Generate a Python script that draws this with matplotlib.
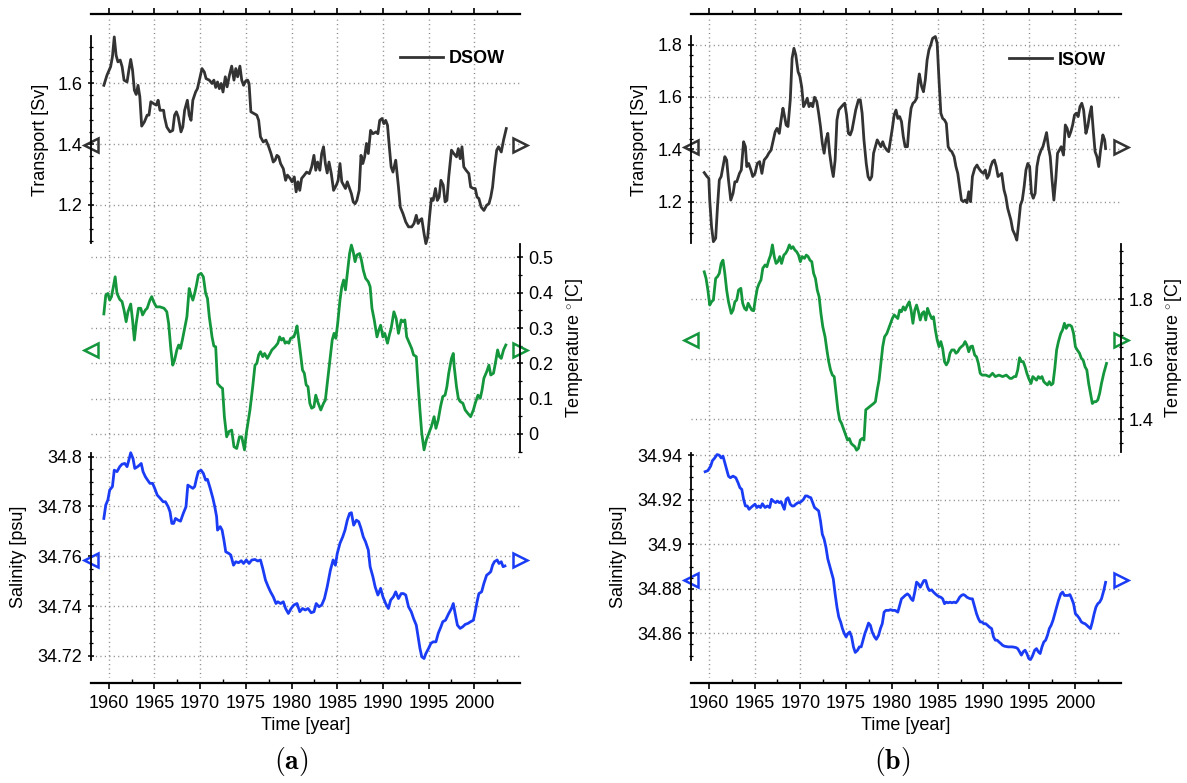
import numpy as np
import matplotlib
matplotlib.use("Agg")
import matplotlib.pyplot as plt
from matplotlib.ticker import FixedLocator, AutoMinorLocator, MultipleLocator, FuncFormatter
from matplotlib.transforms import blended_transform_factory

# ---------------- data (year, value) ----------------
dsow_transport = [
(1959.46,1.593),(1959.8,1.626),(1960.2,1.654),(1960.4,1.687),(1960.6,1.752),(1960.8,1.692),(1961.0,1.67),
(1961.25,1.676),(1961.46,1.654),(1961.67,1.61),(1962.0,1.604),(1962.2,1.643),(1962.4,1.678),(1962.6,1.643),
(1962.8,1.577),(1963.0,1.563),(1963.2,1.593),(1963.4,1.555),(1963.6,1.459),(1963.9,1.473),(1964.2,1.495),
(1964.4,1.495),(1964.6,1.539),(1964.9,1.533),(1965.2,1.528),(1965.4,1.544),(1965.6,1.511),(1966.0,1.511),
(1966.1,1.489),(1966.35,1.456),(1966.7,1.44),(1967.0,1.445),(1967.2,1.495),(1967.4,1.506),(1967.6,1.489),
(1967.9,1.44),(1968.1,1.456),(1968.3,1.511),(1968.6,1.544),(1968.8,1.495),(1969.0,1.478),(1969.2,1.544),
(1969.5,1.571),(1969.7,1.582),(1970.0,1.621),(1970.2,1.648),(1970.45,1.637),(1970.65,1.615),(1971.0,1.61),
(1971.3,1.599),(1971.5,1.61),(1971.7,1.586),(1971.9,1.604),(1972.1,1.582),(1972.3,1.599),(1972.5,1.571),
(1972.75,1.621),(1972.95,1.588),(1973.2,1.626),(1973.45,1.656),(1973.7,1.61),(1973.9,1.648),(1974.1,1.621),
(1974.35,1.656),(1974.55,1.61),(1974.75,1.593),(1975.0,1.608),(1975.2,1.61),(1975.35,1.599),(1975.55,1.506),
(1975.9,1.5),(1976.2,1.495),(1976.4,1.478),(1976.6,1.424),(1976.9,1.407),(1977.2,1.413),(1977.5,1.391),
(1977.75,1.369),(1978.0,1.341),(1978.2,1.347),(1978.4,1.363),(1978.6,1.358),(1978.8,1.336),(1979.1,1.319),
(1979.35,1.281),(1979.55,1.298),(1979.85,1.287),(1980.05,1.276),(1980.3,1.292),(1980.5,1.243),(1980.7,1.276),
(1980.9,1.248),(1981.1,1.287),(1981.4,1.298),(1981.65,1.308),(1981.95,1.303),(1982.2,1.325),(1982.45,1.363),
(1982.65,1.314),(1982.85,1.341),(1983.1,1.314),(1983.3,1.369),(1983.5,1.391),(1983.7,1.336),(1983.9,1.305),
(1984.1,1.341),(1984.35,1.303),(1984.6,1.248),(1984.9,1.265),(1985.1,1.281),(1985.3,1.336),(1985.5,1.276),
(1985.7,1.265),(1985.9,1.254),(1986.1,1.276),(1986.35,1.254),(1986.55,1.237),(1986.75,1.21),(1986.95,1.204),
(1987.15,1.215),(1987.4,1.248),(1987.6,1.363),(1987.8,1.336),(1988.0,1.358),(1988.2,1.402),(1988.4,1.369),
(1988.65,1.445),(1988.9,1.434),(1989.25,1.44),(1989.45,1.434),(1989.65,1.478),(1989.9,1.484),(1990.1,1.467),
(1990.3,1.478),(1990.5,1.462),(1990.7,1.391),(1990.9,1.325),(1991.1,1.308),(1991.4,1.347),(1991.7,1.259),
(1991.9,1.193),(1992.2,1.171),(1992.5,1.144),(1992.8,1.128),(1993.15,1.128),(1993.4,1.139),(1993.65,1.166),
(1993.85,1.139),(1994.05,1.15),(1994.25,1.155),(1994.5,1.106),(1994.7,1.073),(1994.9,1.095),(1995.1,1.161),
(1995.3,1.221),(1995.5,1.215),(1995.75,1.254),(1995.95,1.215),(1996.15,1.226),(1996.35,1.281),(1996.6,1.265),
(1996.8,1.21),(1997.0,1.215),(1997.2,1.292),(1997.5,1.38),(1997.75,1.369),(1998.05,1.358),(1998.25,1.385),
(1998.45,1.352),(1998.65,1.391),(1998.85,1.325),(1999.1,1.314),(1999.4,1.303),(1999.6,1.259),(1999.9,1.254),
(2000.1,1.254),(2000.3,1.226),(2000.5,1.221),(2000.75,1.193),(2001.05,1.182),(2001.35,1.199),(2001.6,1.204),
(2001.8,1.226),(2002.0,1.259),(2002.2,1.319),(2002.45,1.38),(2002.65,1.391),(2002.95,1.374),(2003.2,1.413),
(2003.5,1.451)]

dsow_temperature = [
(1959.46,0.34),(1959.67,0.393),(1959.9,0.398),(1960.1,0.379),(1960.3,0.389),(1960.5,0.417),(1960.7,0.445),
(1960.9,0.398),(1961.2,0.381),(1961.45,0.375),(1961.67,0.351),(1961.9,0.318),(1962.1,0.346),(1962.4,0.368),
(1962.6,0.323),(1962.8,0.266),(1963.0,0.313),(1963.25,0.356),(1963.5,0.356),(1963.7,0.337),(1964.0,0.351),
(1964.2,0.356),(1964.5,0.379),(1964.7,0.389),(1964.9,0.375),(1965.2,0.36),(1965.6,0.36),(1966.05,0.356),
(1966.35,0.346),(1966.55,0.313),(1966.8,0.238),(1967.0,0.195),(1967.2,0.209),(1967.45,0.238),(1967.65,0.252),
(1967.85,0.242),(1968.05,0.266),(1968.3,0.299),(1968.55,0.332),(1968.8,0.412),(1969.0,0.393),(1969.2,0.379),
(1969.4,0.398),(1969.6,0.422),(1969.8,0.45),(1970.1,0.455),(1970.35,0.445),(1970.6,0.398),(1970.8,0.384),
(1971.0,0.332),(1971.3,0.275),(1971.5,0.249),(1971.7,0.247),(1971.9,0.143),(1972.2,0.134),(1972.45,0.129),
(1972.65,0.049),(1972.9,-0.008),(1973.15,0.007),(1973.45,0.011),(1973.7,-0.036),(1974.0,-0.041),(1974.3,-0.008),
(1974.55,-0.008),(1974.85,-0.045),(1975.05,0.002),(1975.25,0.035),(1975.45,0.068),(1975.75,0.134),(1976.0,0.195),
(1976.2,0.2),(1976.4,0.224),(1976.6,0.233),(1976.85,0.219),(1977.05,0.228),(1977.35,0.214),(1977.65,0.228),
(1977.85,0.238),(1978.2,0.247),(1978.5,0.257),(1978.7,0.275),(1978.9,0.266),(1979.1,0.271),(1979.3,0.257),
(1979.5,0.261),(1979.7,0.257),(1979.9,0.271),(1980.25,0.275),(1980.45,0.29),(1980.6,0.306),(1980.8,0.266),
(1981.0,0.224),(1981.2,0.181),(1981.4,0.172),(1981.6,0.139),(1981.8,0.134),(1982.0,0.087),(1982.2,0.073),
(1982.45,0.077),(1982.65,0.11),(1982.85,0.092),(1983.2,0.068),(1983.5,0.087),(1983.7,0.096),(1983.95,0.153),
(1984.25,0.219),(1984.45,0.266),(1984.65,0.285),(1984.85,0.271),(1985.05,0.313),(1985.3,0.379),(1985.5,0.417),
(1985.7,0.436),(1985.9,0.408),(1986.1,0.455),(1986.35,0.511),(1986.55,0.535),(1986.75,0.516),(1986.95,0.488),
(1987.15,0.507),(1987.45,0.511),(1987.65,0.492),(1987.85,0.464),(1988.1,0.441),(1988.4,0.431),(1988.6,0.417),
(1988.8,0.356),(1989.05,0.323),(1989.35,0.275),(1989.55,0.294),(1989.75,0.308),(1990.0,0.275),(1990.2,0.285),
(1990.5,0.257),(1990.7,0.28),(1990.9,0.299),(1991.2,0.346),(1991.45,0.327),(1991.7,0.285),(1992.0,0.323),
(1992.2,0.318),(1992.4,0.323),(1992.6,0.275),(1992.9,0.257),(1993.15,0.242),(1993.35,0.224),(1993.65,0.219),
(1993.85,0.139),(1994.05,0.068),(1994.25,0.002),(1994.5,-0.045),(1994.75,-0.017),(1995.1,0.007),(1995.3,0.021),
(1995.6,0.049),(1995.8,0.016),(1996.05,0.04),(1996.3,0.077),(1996.55,0.106),(1996.8,0.11),(1997.0,0.134),
(1997.2,0.172),(1997.5,0.214),(1997.7,0.228),(1997.8,0.191),(1998.05,0.134),(1998.25,0.101),(1998.45,0.092),
(1998.75,0.087),(1999.0,0.068),(1999.3,0.058),(1999.6,0.049),(1999.9,0.068),(2000.1,0.087),(2000.4,0.11),
(2000.65,0.101),(2000.85,0.125),(2001.05,0.158),(2001.35,0.176),(2001.6,0.195),(2001.8,0.167),(2002.1,0.172),
(2002.3,0.2),(2002.55,0.238),(2002.75,0.219),(2002.95,0.214),(2003.2,0.238),(2003.45,0.252)]

dsow_salinity = [
(1959.46,34.7752),(1959.67,34.7806),(1959.9,34.7826),(1960.1,34.7866),(1960.4,34.788),(1960.6,34.7946),
(1960.9,34.794),(1961.2,34.796),(1961.45,34.797),(1961.75,34.7973),(1962.0,34.796),(1962.2,34.7987),
(1962.4,34.8016),(1962.65,34.7993),(1962.85,34.7953),(1963.15,34.796),(1963.35,34.7966),(1963.55,34.7973),
(1963.75,34.794),(1964.0,34.792),(1964.25,34.7906),(1964.5,34.7893),(1964.8,34.7893),(1965.1,34.7866),
(1965.3,34.7846),(1965.65,34.7832),(1965.95,34.7819),(1966.2,34.7819),(1966.5,34.7799),(1966.7,34.7779),
(1966.9,34.7732),(1967.1,34.7732),(1967.3,34.7752),(1967.6,34.7745),(1967.85,34.7741),(1968.15,34.7772),
(1968.45,34.7799),(1968.65,34.7886),(1968.9,34.788),(1969.2,34.7873),(1969.4,34.788),(1969.6,34.7913),
(1969.8,34.794),(1970.1,34.7946),(1970.35,34.7933),(1970.6,34.7906),(1970.8,34.7909),(1971.1,34.7873),
(1971.4,34.7832),(1971.6,34.7799),(1971.8,34.7759),(1971.9,34.7705),(1972.2,34.7719),(1972.4,34.7705),
(1972.6,34.7665),(1972.8,34.7618),(1973.15,34.7611),(1973.35,34.7605),(1973.65,34.7564),(1973.9,34.7578),
(1974.2,34.7574),(1974.5,34.7582),(1974.75,34.7571),(1975.05,34.7585),(1975.35,34.7571),(1975.65,34.7585),
(1976.0,34.7587),(1976.3,34.7581),(1976.6,34.7585),(1976.85,34.7551),(1977.15,34.7504),(1977.45,34.7477),
(1977.7,34.7457),(1978.0,34.7437),(1978.3,34.741),(1978.5,34.7417),(1978.8,34.741),(1979.1,34.7417),
(1979.35,34.739),(1979.65,34.737),(1979.95,34.739),(1980.25,34.7404),(1980.6,34.741),(1980.9,34.7377),
(1981.2,34.739),(1981.5,34.7384),(1981.8,34.739),(1982.15,34.7373),(1982.45,34.7377),(1982.7,34.741),
(1983.0,34.7397),(1983.3,34.7404),(1983.6,34.743),(1983.9,34.7477),(1984.25,34.7544),(1984.55,34.7585),
(1984.8,34.7564),(1985.0,34.7611),(1985.3,34.7652),(1985.6,34.7678),(1985.85,34.7705),(1986.1,34.7745),
(1986.35,34.7772),(1986.55,34.7775),(1986.8,34.7725),(1987.1,34.7745),(1987.35,34.7739),(1987.6,34.7712),
(1987.85,34.7678),(1988.1,34.7658),(1988.4,34.7625),(1988.6,34.7558),(1988.9,34.7518),(1989.15,34.7477),
(1989.45,34.7444),(1989.75,34.7471),(1990.0,34.7437),(1990.3,34.741),(1990.6,34.739),(1990.85,34.7424),
(1991.15,34.7437),(1991.4,34.7457),(1991.7,34.743),(1992.0,34.745),(1992.25,34.745),(1992.5,34.7444),
(1992.8,34.7397),(1993.1,34.7377),(1993.35,34.735),(1993.65,34.7323),(1993.85,34.7276),(1994.05,34.723),
(1994.25,34.7196),(1994.5,34.7189),(1994.7,34.7209),(1995.0,34.723),(1995.25,34.725),(1995.5,34.7256),
(1995.8,34.7256),(1996.05,34.729),(1996.35,34.7317),(1996.55,34.7337),(1996.85,34.7343),(1997.2,34.737),
(1997.5,34.739),(1997.7,34.741),(1997.9,34.737),(1998.15,34.7323),(1998.45,34.731),(1998.75,34.7317),
(1999.0,34.7326),(1999.3,34.733),(1999.6,34.7337),(1999.9,34.7343),(2000.1,34.7377),(2000.3,34.7417),
(2000.5,34.745),(2000.8,34.7457),(2001.05,34.7491),(2001.35,34.7524),(2001.6,34.7531),(2001.8,34.7538),
(2002.0,34.7564),(2002.2,34.7578),(2002.5,34.7585),(2002.7,34.7571),(2002.95,34.7578),(2003.15,34.7558),
(2003.35,34.7561)]

isow_transport = [
(1959.5,1.311),(1959.8,1.296),(1960.0,1.289),(1960.1,1.206),(1960.3,1.104),(1960.5,1.047),(1960.75,1.06),
(1960.95,1.181),(1961.15,1.283),(1961.35,1.296),(1961.55,1.334),(1961.75,1.372),(1961.95,1.359),(1962.15,1.283),
(1962.4,1.206),(1962.65,1.232),(1962.85,1.276),(1963.05,1.276),(1963.35,1.308),(1963.55,1.321),(1963.8,1.429),
(1964.0,1.41),(1964.15,1.334),(1964.35,1.346),(1964.6,1.321),(1964.8,1.296),(1965.05,1.308),(1965.3,1.346),
(1965.55,1.353),(1965.8,1.308),(1966.05,1.359),(1966.35,1.372),(1966.55,1.385),(1966.8,1.397),(1967.05,1.436),
(1967.25,1.467),(1967.45,1.48),(1967.7,1.461),(1967.9,1.512),(1968.1,1.557),(1968.25,1.531),(1968.45,1.493),
(1968.65,1.487),(1968.9,1.589),(1969.1,1.748),(1969.3,1.786),(1969.5,1.761),(1969.75,1.697),(1969.95,1.678),
(1970.15,1.638),(1970.35,1.563),(1970.55,1.576),(1970.75,1.595),(1970.95,1.563),(1971.15,1.576),(1971.35,1.563),
(1971.55,1.599),(1971.8,1.582),(1972.0,1.538),(1972.2,1.487),(1972.4,1.423),(1972.6,1.385),(1972.8,1.436),
(1973.0,1.461),(1973.2,1.385),(1973.4,1.334),(1973.6,1.296),(1973.8,1.359),(1974.0,1.512),(1974.2,1.55),
(1974.45,1.561),(1974.65,1.569),(1974.85,1.576),(1975.05,1.531),(1975.25,1.461),(1975.45,1.455),(1975.65,1.474),
(1975.85,1.512),(1976.05,1.55),(1976.35,1.589),(1976.55,1.589),(1976.75,1.538),(1976.95,1.436),(1977.2,1.346),
(1977.4,1.296),(1977.6,1.283),(1977.8,1.296),(1978.0,1.385),(1978.2,1.41),(1978.4,1.436),(1978.6,1.423),
(1978.8,1.41),(1979.0,1.429),(1979.2,1.41),(1979.45,1.397),(1979.65,1.391),(1979.85,1.436),(1980.05,1.48),
(1980.25,1.531),(1980.45,1.55),(1980.65,1.518),(1980.85,1.525),(1981.05,1.506),(1981.25,1.448),(1981.45,1.41),
(1981.7,1.41),(1981.9,1.499),(1982.1,1.557),(1982.3,1.576),(1982.5,1.582),(1982.7,1.595),(1982.9,1.665),
(1983.0,1.688),(1983.25,1.64),(1983.45,1.62),(1983.65,1.665),(1983.85,1.741),(1984.05,1.78),(1984.25,1.799),
(1984.45,1.824),(1984.75,1.831),(1984.95,1.805),(1985.15,1.665),(1985.35,1.538),(1985.55,1.518),(1985.75,1.512),
(1985.95,1.499),(1986.15,1.41),(1986.35,1.397),(1986.55,1.391),(1986.8,1.372),(1987.0,1.334),(1987.2,1.308),
(1987.4,1.257),(1987.6,1.206),(1987.8,1.2),(1988.0,1.206),(1988.2,1.196),(1988.4,1.238),(1988.6,1.2),
(1988.8,1.296),(1989.05,1.327),(1989.3,1.34),(1989.5,1.327),(1989.75,1.315),(1990.0,1.308),(1990.2,1.321),
(1990.4,1.289),(1990.6,1.302),(1990.8,1.334),(1991.0,1.353),(1991.2,1.359),(1991.4,1.334),(1991.6,1.296),
(1991.8,1.302),(1992.0,1.308),(1992.25,1.245),(1992.45,1.219),(1992.65,1.175),(1992.8,1.155),(1993.0,1.13),
(1993.2,1.092),(1993.45,1.073),(1993.65,1.053),(1993.85,1.117),(1994.05,1.187),(1994.25,1.206),(1994.45,1.257),
(1994.65,1.321),(1994.85,1.346),(1995.05,1.334),(1995.25,1.232),(1995.45,1.213),(1995.65,1.232),(1995.85,1.334),
(1996.05,1.372),(1996.3,1.397),(1996.5,1.41),(1996.7,1.436),(1996.9,1.464),(1997.1,1.41),(1997.3,1.372),
(1997.5,1.283),(1997.7,1.206),(1997.9,1.283),(1998.1,1.385),(1998.3,1.397),(1998.5,1.41),(1998.75,1.378),
(1998.95,1.493),(1999.15,1.48),(1999.35,1.448),(1999.55,1.467),(1999.75,1.493),(1999.95,1.531),(2000.15,1.538),
(2000.35,1.525),(2000.55,1.563),(2000.75,1.576),(2000.95,1.55),(2001.2,1.461),(2001.4,1.487),(2001.6,1.531),
(2001.8,1.563),(2002.0,1.474),(2002.2,1.391),(2002.4,1.372),(2002.6,1.334),(2002.8,1.397),(2003.05,1.455),
(2003.25,1.436),(2003.35,1.403)]

isow_temperature = [
(1959.5,1.892),(1959.7,1.87),(1959.9,1.831),(1960.1,1.781),(1960.3,1.792),(1960.5,1.798),(1960.75,1.87),
(1960.95,1.876),(1961.15,1.887),(1961.35,1.92),(1961.55,1.931),(1961.75,1.887),(1961.95,1.831),(1962.15,1.792),
(1962.45,1.753),(1962.65,1.764),(1962.85,1.792),(1963.05,1.798),(1963.25,1.831),(1963.5,1.837),(1963.7,1.787),
(1963.9,1.77),(1964.1,1.764),(1964.3,1.787),(1964.5,1.775),(1964.7,1.764),(1964.9,1.762),(1965.1,1.803),
(1965.3,1.837),(1965.5,1.853),(1965.7,1.865),(1965.9,1.904),(1966.15,1.915),(1966.35,1.909),(1966.55,1.931),
(1966.75,1.948),(1966.95,1.982),(1967.15,1.943),(1967.35,1.92),(1967.55,1.926),(1967.75,1.943),(1967.95,1.92),
(1968.2,1.948),(1968.4,1.954),(1968.6,1.965),(1968.8,1.982),(1969.0,1.97),(1969.2,1.976),(1969.4,1.965),
(1969.6,1.959),(1969.8,1.948),(1970.0,1.926),(1970.2,1.943),(1970.45,1.937),(1970.65,1.948),(1970.85,1.943),
(1971.05,1.931),(1971.25,1.926),(1971.45,1.887),(1971.65,1.87),(1971.85,1.831),(1972.05,1.809),(1972.25,1.753),
(1972.45,1.709),(1972.7,1.675),(1972.9,1.631),(1973.1,1.592),(1973.3,1.564),(1973.5,1.547),(1973.7,1.542),
(1973.9,1.486),(1974.1,1.431),(1974.3,1.397),(1974.5,1.386),(1974.7,1.369),(1974.9,1.352),(1975.15,1.33),
(1975.35,1.335),(1975.55,1.319),(1975.75,1.313),(1975.95,1.308),(1976.15,1.296),(1976.35,1.302),(1976.55,1.33),
(1976.75,1.335),(1976.95,1.33),(1977.15,1.431),(1977.35,1.436),(1977.55,1.441),(1977.8,1.447),(1978.0,1.452),
(1978.2,1.458),(1978.4,1.497),(1978.6,1.53),(1978.8,1.586),(1979.0,1.642),(1979.2,1.675),(1979.45,1.686),
(1979.65,1.703),(1979.85,1.72),(1980.05,1.736),(1980.25,1.748),(1980.45,1.742),(1980.65,1.736),(1980.85,1.764),
(1981.05,1.759),(1981.25,1.775),(1981.45,1.764),(1981.7,1.781),(1981.9,1.792),(1982.1,1.764),(1982.3,1.72),
(1982.5,1.764),(1982.7,1.781),(1982.9,1.759),(1983.1,1.731),(1983.3,1.753),(1983.5,1.759),(1983.7,1.731),
(1983.9,1.77),(1984.1,1.753),(1984.35,1.736),(1984.55,1.742),(1984.75,1.698),(1984.95,1.664),(1985.15,1.642),
(1985.35,1.659),(1985.55,1.636),(1985.75,1.592),(1985.95,1.581),(1986.15,1.592),(1986.35,1.62),(1986.55,1.631),
(1986.8,1.631),(1987.0,1.62),(1987.2,1.625),(1987.4,1.636),(1987.6,1.642),(1987.8,1.647),(1988.0,1.659),
(1988.2,1.647),(1988.4,1.625),(1988.6,1.642),(1988.8,1.644),(1989.05,1.614),(1989.25,1.608),(1989.45,1.586),
(1989.65,1.553),(1989.85,1.547),(1990.25,1.547),(1990.65,1.542),(1991.0,1.553),(1991.3,1.542),(1991.7,1.547),
(1992.1,1.542),(1992.5,1.547),(1992.9,1.536),(1993.1,1.536),(1993.35,1.542),(1993.55,1.542),(1993.75,1.564),
(1993.95,1.605),(1994.15,1.592),(1994.35,1.592),(1994.55,1.575),(1994.75,1.553),(1994.95,1.536),(1995.2,1.519),
(1995.4,1.542),(1995.6,1.536),(1995.8,1.53),(1996.0,1.542),(1996.2,1.536),(1996.4,1.542),(1996.6,1.525),
(1996.8,1.519),(1997.0,1.514),(1997.2,1.525),(1997.4,1.514),(1997.6,1.519),(1997.8,1.569),(1998.0,1.631),
(1998.2,1.659),(1998.45,1.686),(1998.65,1.698),(1998.85,1.72),(1999.05,1.703),(1999.25,1.714),(1999.45,1.714),
(1999.65,1.709),(1999.85,1.686),(2000.05,1.642),(2000.25,1.631),(2000.5,1.62),(2000.7,1.603),(2000.9,1.597),
(2001.1,1.575),(2001.3,1.564),(2001.5,1.519),(2001.7,1.486),(2001.9,1.452),(2002.1,1.458),(2002.3,1.458),
(2002.5,1.464),(2002.7,1.486),(2002.9,1.519),(2003.15,1.553),(2003.45,1.586)]

isow_salinity = [
(1959.6,34.9326),(1959.9,34.9331),(1960.2,34.9351),(1960.4,34.9376),(1960.6,34.9385),(1960.9,34.9403),
(1961.15,34.94),(1961.35,34.9388),(1961.55,34.9396),(1961.75,34.9366),(1961.95,34.9336),(1962.15,34.9306),
(1962.35,34.9299),(1962.65,34.9306),(1962.95,34.9299),(1963.2,34.9276),(1963.4,34.9254),(1963.6,34.9247),
(1963.8,34.9202),(1964.0,34.9172),(1964.2,34.9172),(1964.4,34.9157),(1964.6,34.9165),(1964.8,34.9172),
(1965.05,34.918),(1965.25,34.9165),(1965.45,34.9172),(1965.65,34.9165),(1965.85,34.9182),(1966.15,34.9165),
(1966.4,34.9172),(1966.65,34.9165),(1966.85,34.9202),(1967.05,34.9194),(1967.3,34.9187),(1967.5,34.9194),
(1967.7,34.9187),(1967.9,34.9191),(1968.1,34.9172),(1968.25,34.9157),(1968.45,34.9202),(1968.65,34.9209),
(1968.9,34.918),(1969.1,34.9172),(1969.3,34.9172),(1969.5,34.918),(1969.75,34.9187),(1969.95,34.9187),
(1970.15,34.9194),(1970.35,34.9202),(1970.55,34.9217),(1970.75,34.9217),(1970.95,34.9212),(1971.15,34.9209),
(1971.35,34.9187),(1971.55,34.9165),(1971.8,34.9157),(1972.0,34.915),(1972.2,34.9105),(1972.4,34.9045),
(1972.6,34.9023),(1972.8,34.8986),(1973.0,34.8934),(1973.2,34.8904),(1973.4,34.8874),(1973.6,34.8844),
(1973.8,34.8777),(1974.0,34.8718),(1974.2,34.8673),(1974.4,34.8651),(1974.6,34.8621),(1974.8,34.8599),
(1975.0,34.8584),(1975.2,34.8599),(1975.4,34.8606),(1975.6,34.8584),(1975.8,34.8539),(1976.0,34.8514),
(1976.25,34.8524),(1976.45,34.8539),(1976.65,34.8539),(1976.85,34.8569),(1977.05,34.8599),(1977.25,34.8621),
(1977.45,34.8646),(1977.65,34.8636),(1977.85,34.8606),(1978.1,34.8584),(1978.3,34.8573),(1978.55,34.8591),
(1978.75,34.8621),(1978.95,34.8643),(1979.15,34.8695),(1979.35,34.8703),(1979.65,34.8703),(1979.85,34.8706),
(1980.1,34.8703),(1980.35,34.8703),(1980.65,34.8695),(1980.85,34.8725),(1981.05,34.8755),(1981.25,34.8762),
(1981.45,34.877),(1981.7,34.8777),(1981.9,34.877),(1982.1,34.8755),(1982.3,34.8747),(1982.5,34.8785),
(1982.7,34.883),(1982.9,34.8822),(1983.1,34.8807),(1983.3,34.8822),(1983.5,34.8837),(1983.7,34.8837),
(1983.9,34.8807),(1984.1,34.8792),(1984.35,34.8795),(1984.55,34.8785),(1984.75,34.8777),(1984.95,34.877),
(1985.15,34.8765),(1985.35,34.8762),(1985.55,34.8755),(1985.75,34.8733),(1985.95,34.874),(1986.15,34.8737),
(1986.35,34.874),(1986.55,34.8737),(1986.8,34.874),(1987.0,34.8737),(1987.2,34.8747),(1987.4,34.8762),
(1987.6,34.877),(1987.8,34.8774),(1988.0,34.877),(1988.2,34.8762),(1988.4,34.8758),(1988.6,34.8755),
(1988.8,34.8755),(1989.05,34.8718),(1989.25,34.8688),(1989.45,34.8666),(1989.65,34.8651),(1989.85,34.8651),
(1990.05,34.8643),(1990.25,34.8643),(1990.45,34.8636),(1990.65,34.8628),(1990.9,34.8621),(1991.1,34.8584),
(1991.3,34.8569),(1991.5,34.8569),(1991.7,34.8561),(1991.9,34.8554),(1992.1,34.8546),(1992.3,34.8542),
(1992.7,34.8539),(1993.15,34.8539),(1993.55,34.8536),(1993.75,34.8531),(1993.95,34.8517),(1994.15,34.8502),
(1994.35,34.8517),(1994.55,34.8524),(1994.75,34.8509),(1994.95,34.8487),(1995.15,34.8482),(1995.35,34.8497),
(1995.6,34.8524),(1995.8,34.8531),(1996.0,34.8517),(1996.2,34.8509),(1996.4,34.8539),(1996.6,34.8561),
(1996.8,34.8569),(1997.0,34.8591),(1997.2,34.8621),(1997.4,34.8636),(1997.6,34.8658),(1997.8,34.8688),
(1998.0,34.8718),(1998.2,34.8747),(1998.45,34.8777),(1998.65,34.8785),(1998.85,34.877),(1999.05,34.877),
(1999.25,34.877),(1999.45,34.8774),(1999.65,34.8755),(1999.85,34.8733),(2000.05,34.8688),(2000.25,34.868),
(2000.5,34.8666),(2000.7,34.8651),(2000.9,34.8646),(2001.1,34.8643),(2001.3,34.8636),(2001.5,34.8628),
(2001.7,34.8621),(2001.9,34.8651),(2002.1,34.8688),(2002.3,34.8718),(2002.5,34.8733),(2002.7,34.874),
(2002.9,34.8755),(2003.15,34.8792),(2003.35,34.8829)]

# mean markers (triangles) per series
dsow_means = [1.397, 0.237, 34.7586]
isow_means = [1.410, 1.664, 34.884]
legend_names = ["DSOW", "ISOW"]
panel_labels = [r"$\mathbf{(a)}$", r"$\mathbf{(b)}$"]
year_ticks = list(range(1960, 2001, 5))
year_minor = [1962.5 + 5 * i for i in range(9)]

# ---------------- style ----------------
plt.rcParams['font.family'] = ['Liberation Sans', 'DejaVu Sans']
plt.rcParams['mathtext.fontset'] = 'cm'
plt.rcParams['font.size'] = 13

C_T = '#333333'
C_TEMP = '#14963c'
C_SAL = '#1a3cf5'
GRID = dict(color='#8a8a8a', linestyle=(0, (0.8, 2.4)), linewidth=1.0)
XLIM = (1958, 2005)

W, H = 1187, 783
fig = plt.figure(figsize=(W / 100, H / 100), dpi=100)

def fy(px):
    return 1 - px / H

fmt = FuncFormatter(lambda v, p: f"{round(v, 4) + 0.0:g}")

def panel(x0_px, x1_px, series, means, ylims, majors, minors, labelx, legname, legy, plabel, plabel_x):
    x0 = x0_px / W
    w = (x1_px - x0_px) / W
    # background axes: vertical grid, top and bottom time axes
    bg_top, bg_bot = 18, 678
    bg = fig.add_axes([x0, fy(bg_bot), w, (bg_bot - bg_top) / H])
    bg.set_xlim(*XLIM)
    bg.set_ylim(0, 1)
    bg.patch.set_visible(False)
    for s in ['left', 'right', 'top']:
        bg.spines[s].set_visible(False)
    bg.spines['bottom'].set_position(('outward', 3.6))
    bg.spines['bottom'].set_linewidth(1.6)
    bg.set_yticks([])
    bg.xaxis.set_major_locator(FixedLocator(year_ticks))
    bg.xaxis.set_minor_locator(FixedLocator(year_minor))
    bg.tick_params(axis='x', which='major', direction='out', length=4.5, width=1.2,
                   labelsize=13, pad=4.0)
    bg.tick_params(axis='x', which='minor', direction='in', length=3, width=1.0)
    bg.grid(axis='x', which='major', **GRID)
    bg.set_xlabel('Time [year]', fontsize=13)
    bg.xaxis.set_label_coords(0.5, (bg_bot - 725) / (bg_bot - bg_top))
    bg.xaxis.label.set_va('center')

    top = bg.twiny()
    top.set_xlim(*XLIM)
    for s in ['left', 'right', 'bottom']:
        top.spines[s].set_visible(False)
    top.spines['top'].set_position(('outward', 3.0))
    top.spines['top'].set_linewidth(1.6)
    top.xaxis.set_major_locator(FixedLocator(year_ticks))
    top.xaxis.set_minor_locator(FixedLocator(year_minor))
    top.tick_params(axis='x', which='major', direction='out', length=4.5, width=1.2, labeltop=False)
    top.tick_params(axis='x', which='minor', direction='out', length=2.8, width=1.0)

    rows = [(36, 243, 'left', 'Transport [Sv]', C_T),
            (244, 452, 'right', r'Temperature $^{\circ}$[C]', C_TEMP),
            (453, 660, 'left', 'Salinity [psu]', C_SAL)]
    axes = []
    for i, (t, b, side, lab, col) in enumerate(rows):
        ax = fig.add_axes([x0, fy(b), w, (b - t) / H])
        ax.patch.set_visible(False)
        ax.set_xlim(*XLIM)
        ax.set_ylim(*ylims[i])
        for s in ['left', 'right', 'top', 'bottom']:
            ax.spines[s].set_visible(s == side)
        ax.spines[side].set_linewidth(1.3)
        ax.set_xticks([])
        ax.yaxis.set_ticks_position(side)
        ax.yaxis.set_label_position(side)
        ax.yaxis.set_major_locator(MultipleLocator(majors[i]))
        ax.yaxis.set_minor_locator(AutoMinorLocator(minors[i]))
        ax.yaxis.set_major_formatter(fmt)
        ax.tick_params(axis='y', which='major', direction='inout', length=4.8, width=1.1,
                       labelsize=13, pad=3.4)
        ax.tick_params(axis='y', which='minor', direction='inout', length=2.4, width=0.9)
        ax.grid(axis='y', which='major', **GRID)
        yrs, vals = zip(*series[i])
        ln, = ax.plot(yrs, vals, color=col, lw=2.0, clip_on=False, solid_joinstyle='round')
        tr = blended_transform_factory(ax.transAxes, ax.transData)
        ax.plot([0], [means[i]], ls='none', marker='<', ms=9.5, mfc='none', mec=col, mew=1.8,
                transform=tr, clip_on=False)
        ax.plot([1], [means[i]], ls='none', marker='>', ms=9.5, mfc='none', mec=col, mew=1.8,
                transform=tr, clip_on=False)
        ax.set_ylabel(lab, fontsize=13)
        ax.yaxis.set_label_coords(labelx[i], 0.5)
        ax.yaxis.label.set_va('center')
        if i == 0:
            ax.legend([ln], [legname], loc='center right', bbox_to_anchor=(0.965, legy),
                      frameon=False, handlelength=2.4, handletextpad=0.3, borderpad=0,
                      borderaxespad=0, prop={'weight': 'bold', 'size': 13})
        axes.append(ax)
    fig.text(plabel_x / W, fy(761.7), plabel, ha='center', va='center', fontsize=20)

panel(90.5, 520.0, [dsow_transport, dsow_temperature, dsow_salinity], dsow_means,
      [(1.075, 1.755), (-0.051, 0.538), (34.7183, 34.8015)],
      [0.2, 0.1, 0.02], [5, 2, 4], [-0.117, 1.128, -0.167], legend_names[0], 0.892,
      panel_labels[0], 291.6)
panel(690.5, 1120.7, [isow_transport, isow_temperature, isow_salinity], isow_means,
      [(1.042, 1.833), (1.29, 1.985), (34.848, 34.941)],
      [0.2, 0.2, 0.02], [5, 5, 4], [-0.119, 1.123, -0.168], legend_names[1], 0.884,
      panel_labels[1], 892.0)

fig.savefig('out.png', dpi=100)
